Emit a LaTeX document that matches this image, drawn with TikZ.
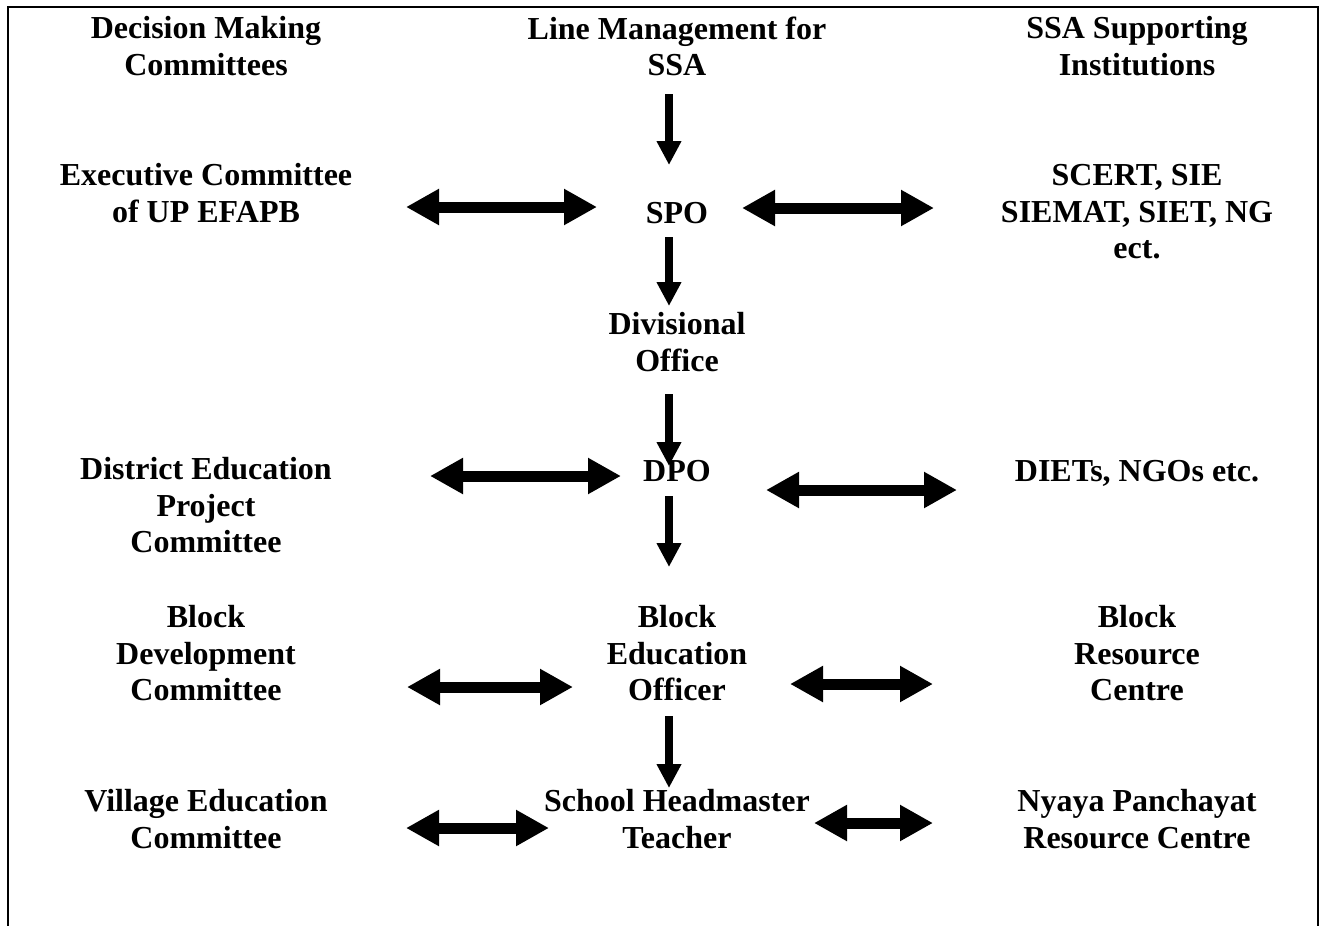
\documentclass[tikz,border=0pt]{standalone}
\usepackage{fontspec}
\setmainfont{Liberation Serif}
\usetikzlibrary{arrows.meta}
\tikzset{
  lbl/.style={font=\bfseries\fontsize{24pt}{27.4pt}\selectfont, align=center,
    inner sep=0pt, anchor=north, yshift=19.18pt, execute at begin node=\strut},
  harrow/.style={line width=8.25pt,
    {Triangle[length=24.75pt,width=25.5pt]}-{Triangle[length=24.75pt,width=25.5pt]}},
  varrow/.style={line width=6.2pt, -{Triangle[length=18pt,width=17.5pt]}},
  frame/.style={line width=1.5pt}
}
\begin{document}
\begin{tikzpicture}[x=0.75pt,y=-0.75pt]
\clip (0,0) rectangle (1332,925);
\draw[frame] (8,7) rectangle (1318,960);

% labels
\node[lbl] (hdc)   at (206,42)  {Decision Making\\Committees};
\node[lbl] (hlm)   at (677,42)  {Line Management for\\SSA};
\node[lbl] (hsi)   at (1137,42) {SSA Supporting\\Institutions};
\node[lbl] (exec)  at (206,189) {Executive Committee\\of UP EFAPB};
\node[lbl] (spo)   at (677,223) {SPO};
\node[lbl] (scert) at (1137,190) {SCERT, SIE\\SIEMAT, SIET, NG\\ect.};
\node[lbl] (div)   at (677,338) {Divisional\\Office};
\node[lbl] (depc)  at (206,483) {District Education\\Project\\Committee};
\node[lbl] (dpo)   at (677,481) {DPO};
\node[lbl] (diets) at (1137,481) {DIETs, NGOs etc.};
\node[lbl] (bdc)   at (206,631) {Block\\Development\\Committee};
\node[lbl] (beo)   at (677,631) {Block\\Education\\Officer};
\node[lbl] (brc)   at (1137,631) {Block\\Resource\\Centre};
\node[lbl] (vec)   at (206,815) {Village Education\\Committee};
\node[lbl] (shm)   at (677,815) {School Headmaster\\Teacher};
\node[lbl] (nprc)  at (1137,815) {Nyaya Panchayat\\Resource Centre};

% arrow end points
\coordinate (v1a) at (669,94);  \coordinate (v1b) at (669,165);
\coordinate (v2a) at (669,237); \coordinate (v2b) at (669,306);
\coordinate (v3a) at (669,394); \coordinate (v3b) at (669,466);
\coordinate (v4a) at (669,496); \coordinate (v4b) at (669,567);
\coordinate (v5a) at (669,716); \coordinate (v5b) at (669,788);

\coordinate (h1a) at (406,207); \coordinate (h1b) at (597,207);
\coordinate (h2a) at (742,208); \coordinate (h2b) at (934,208);
\coordinate (h3a) at (430,476); \coordinate (h3b) at (621,476);
\coordinate (h4a) at (766,490); \coordinate (h4b) at (957,490);
\coordinate (h5a) at (407,687); \coordinate (h5b) at (573,687);
\coordinate (h6a) at (790,684); \coordinate (h6b) at (933,684);
\coordinate (h7a) at (406,828); \coordinate (h7b) at (549,828);
\coordinate (h8a) at (814,823); \coordinate (h8b) at (933,823);

\foreach \i in {1,...,5} \draw[varrow] (v\i a) -- (v\i b);
\foreach \i in {1,...,8} \draw[harrow] (h\i a) -- (h\i b);
\end{tikzpicture}
\end{document}
